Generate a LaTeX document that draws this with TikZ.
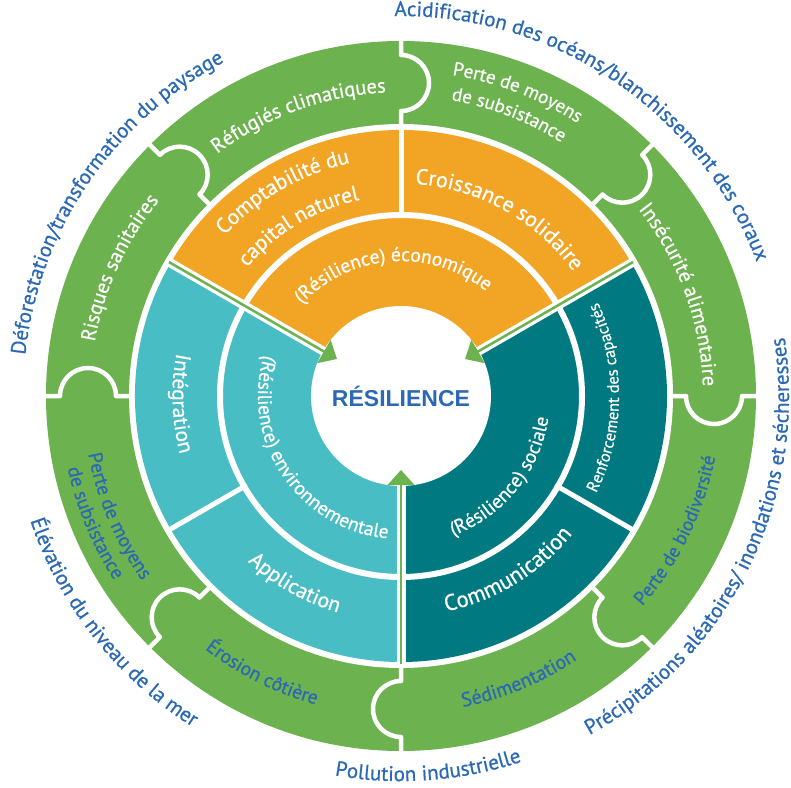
\documentclass[tikz,border=0pt]{standalone}
\usepackage{fontspec}
\setmainfont{PT Sans}[FakeBold=0.7]
\newfontfamily\headfont{Liberation Sans}
\usetikzlibrary{decorations.text}

\definecolor{ringgreen}{RGB}{108,178,78}
\definecolor{econorange}{RGB}{242,164,37}
\definecolor{envteal}{RGB}{73,189,196}
\definecolor{socteal}{RGB}{0,121,128}
\definecolor{labelblue}{RGB}{43,105,180}

\newcommand\fsz[1]{\fontsize{#1pt}{#1pt}\selectfont}

% text set clockwise along an arc (letters point outwards)
% #1 baseline radius, #2 middle angle, #3 format, #4 text
\newcommand\cwtext[4]{%
  \path[decorate,decoration={text along path,text align=center,text={|#3|#4}}]
    ({#2+80}:#1pt) arc[start angle={#2+80},end angle={#2-80},radius=#1pt];}
% text set counter-clockwise along an arc (letters point inwards)
\newcommand\ccwtext[4]{%
  \path[decorate,decoration={text along path,text align=center,text={|#3|#4}}]
    ({#2-80}:#1pt) arc[start angle={#2-80},end angle={#2+80},radius=#1pt];}

\newcommand\hazardfmt{\fsz{21}\color{labelblue}}
\newcommand\impactfmt{\fsz{20.5}\color{white}}
\newcommand\impactsmall{\fsz{19}\color{white}}
\newcommand\corefmt{\fsz{19.5}\color{white}}

\tikzset{
  joint/.style={draw=white,line width=4.5pt,line join=round},
  divider/.style={draw=white,line width=5pt},
  shaftborder/.style={draw=white,line width=9pt},
  shaft/.style={draw=ringgreen,line width=2.5pt},
  arrowtip/.style={fill=ringgreen},
}

\begin{document}
\begin{tikzpicture}
\useasboundingbox (-401pt,-391pt) rectangle (390pt,396pt);

% outer ring of impacts
\fill[ringgreen] (0,0) circle[radius=355pt];
\fill[white] (0,0) circle[radius=272pt];

% three sectors of resilience
\fill[econorange] (0,0) -- (30:266pt) arc[start angle=30,end angle=150,radius=266pt] -- cycle;
\fill[envteal] (0,0) -- (150:266pt) arc[start angle=150,end angle=270,radius=266pt] -- cycle;
\fill[socteal] (0,0) -- (270:266pt) arc[start angle=270,end angle=390,radius=266pt] -- cycle;
\draw[white,line width=6pt] (0,0) circle[radius=181pt];
\fill[white] (0,0) circle[radius=90pt];

% dividers of the action ring
\foreach \a in {90,210,330} \draw[divider] (\a:178pt) -- (\a:268pt);

% puzzle joints between the impact pieces
\foreach \a in {0,45,...,315}
  \draw[joint,rotate=\a] (357pt,0) -- (341pt,0)
    arc[start angle=0,end angle=-180,radius=28pt] -- (270pt,0);

% arrows pointing to the core
\foreach \a in {30,150,270}{
  \coordinate (tail\a) at (\a:268pt);
  \coordinate (head\a) at (\a:88pt);
  \draw[shaftborder] (tail\a) -- (head\a);
  \draw[shaft] (tail\a) -- (head\a);
  \fill[arrowtip,rotate=\a] (74pt,0) -- (89pt,13.5pt) -- (89pt,-13.5pt) -- cycle;
}

\node[font=\headfont\bfseries\fsz{23},text=labelblue] (core) at (0,0) {RÉSILIENCE};

% inner ring
\cwtext{135}{94}{\corefmt}{(Résilience) économique}
\ccwtext{143}{214}{\corefmt}{(Résilience) environnementale}
\ccwtext{149}{-39}{\corefmt}{(Résilience) sociale}

% action ring
\cwtext{238.5}{120}{\fsz{21.5}\color{white}}{Comptabilité du}
\cwtext{200.5}{121}{\fsz{21.5}\color{white}}{capital naturel}
\cwtext{212.5}{61}{\fsz{22}\color{white}}{Croissance solidaire}
\ccwtext{228.5}{182}{\fsz{21.5}\color{white}}{Intégration}
\ccwtext{225.5}{240.5}{\fsz{21.5}\color{white}}{Application}
\ccwtext{220}{-58.5}{\fsz{22.5}\color{white}}{Communication}
\ccwtext{218}{-0.5}{\fsz{16.5}\color{white}}{Renforcement des capacités}

% impact ring
\cwtext{304}{110}{\impactfmt}{Réfugiés climatiques}
\cwtext{325}{69}{\impactsmall}{Perte de moyens}
\cwtext{300}{69}{\impactsmall}{de subsistance}
\cwtext{302}{20}{\impactfmt}{Insécurité alimentaire}
\ccwtext{320}{-26}{\fsz{19}\color{labelblue}}{Perte de biodiversité}
\ccwtext{317}{-67.5}{\fsz{20}\color{labelblue}}{Sédimentation}
\ccwtext{320}{243.4}{\fsz{19.5}\color{labelblue}}{Érosion côtière}
\ccwtext{318}{203}{\fsz{19.5}\color{labelblue}}{Perte de moyens}
\ccwtext{341}{202.5}{\fsz{19.5}\color{labelblue}}{de subsistance}
\cwtext{311}{155.5}{\impactfmt}{Risques sanitaires}

% hazards around the circle
\cwtext{380}{55.8}{\hazardfmt}{Acidification des océans/blanchissement des coraux}
\cwtext{378}{145.8}{\hazardfmt}{Déforestation/transformation du paysage}
\ccwtext{391}{218.2}{\hazardfmt}{Élévation du niveau de la mer}
\ccwtext{385}{274.2}{\hazardfmt}{Pollution industrielle}
\ccwtext{388}{-26.1}{\hazardfmt}{Précipitations aléatoires/ inondations et sécheresses}
\end{tikzpicture}
\end{document}
